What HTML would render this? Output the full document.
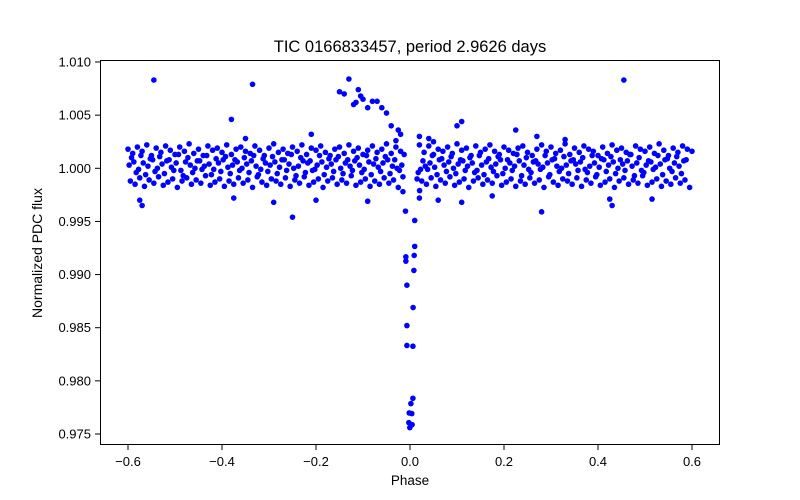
<!DOCTYPE html>
<html><head><meta charset="utf-8"><style>
body{margin:0;background:#fff;}
svg{display:block;font-family:"Liberation Sans","DejaVu Sans",sans-serif;}
</style></head><body>
<svg id="chart" width="800" height="500" viewBox="0 0 800 500" xmlns="http://www.w3.org/2000/svg">
<rect x="0" y="0" width="800" height="500" fill="#fff"/>
<text x="410" y="52" font-size="16.5" text-anchor="middle">TIC 0166833457, period 2.9626 days</text>
<g id="points"></g>
<rect x="100.5" y="60.5" width="619" height="384" fill="none" stroke="#000" stroke-width="1"/>
<g id="xaxis"></g>
<g id="yaxis"></g>
<text x="410" y="485" font-size="13.5" text-anchor="middle">Phase</text>
<text transform="translate(42,253) rotate(-90)" font-size="14" text-anchor="middle">Normalized PDC flux</text>
</svg>
<script>
const xTicks=[-0.6,-0.4,-0.2,0.0,0.2,0.4,0.6];
const xTickLabels=["\u22120.6","\u22120.4","\u22120.2","0.0","0.2","0.4","0.6"];
const yTicks=[0.975,0.980,0.985,0.990,0.995,1.000,1.005,1.010];
const yTickLabels=["0.975","0.980","0.985","0.990","0.995","1.000","1.005","1.010"];
const bandPhase=[-0.60,-0.59,-0.58,-0.57,-0.56,-0.55,-0.54,-0.53,-0.52,-0.51,-0.50,-0.49,-0.48,-0.47,-0.46,-0.45,-0.44,-0.43,-0.42,-0.41,-0.40,-0.39,-0.38,-0.37,-0.36,-0.35,-0.34,-0.33,-0.32,-0.31,-0.30,-0.29,-0.28,-0.27,-0.26,-0.25,-0.24,-0.23,-0.22,-0.21,-0.20,-0.19,-0.18,-0.17,-0.16,-0.15,-0.14,-0.13,-0.12,-0.11,-0.10,-0.09,-0.08,-0.07,-0.06,-0.05,-0.04,-0.03,-0.02,-0.01,0.00,0.01,0.02,0.03,0.04,0.05,0.06,0.07,0.08,0.09,0.10,0.11,0.12,0.13,0.14,0.15,0.16,0.17,0.18,0.19,0.20,0.21,0.22,0.23,0.24,0.25,0.26,0.27,0.28,0.29,0.30,0.31,0.32,0.33,0.34,0.35,0.36,0.37,0.38,0.39,0.40,0.41,0.42,0.43,0.44,0.45,0.46,0.47,0.48,0.49,0.50,0.51,0.52,0.53,0.54,0.55,0.56,0.57,0.58,0.59,0.60];
// band flux deviations in units of 1e-4
const fluxA=[18,14,20,16,22,12,19,15,21,17,13,20,16,23,14,18,12,21,17,19,15,22,13,18,20,16,14,21,17,12,19,23,15,18,14,20,16,22,13,19,17,21,15,12,18,20,14,22,16,19,13,17,21,15,18,23,14,20,16,12,19,17,22,15,21,13,18,16,20,14,23,17,19,12,21,15,18,22,16,13,20,17,14,19,21,15,12,18,22,16,20,14,17,23,13,19,15,21,18,16,12,20,14,22,17,19,15,13,21,18,16,20,14,23,17,12,19,15,21,18,16];
const fluxB=[3,6,-1,5,2,8,0,4,7,1,5,-2,6,3,0,7,2,4,-1,5,8,1,3,6,0,4,7,2,-1,5,3,6,1,8,4,0,2,7,5,-2,3,6,1,4,8,0,5,2,7,3,-1,6,4,1,5,8,2,0,3,7,4,6,-1,2,5,1,8,3,6,0,4,7,2,5,-2,3,6,1,4,8,0,5,2,7,3,-1,6,4,1,5,8,2,0,3,7,4,6,-1,2,5,1,8,3,6,0,4,7,2,5,-2,3,6,1,4,8,0,5,2,7];
const fluxC=[-12,-15,-9,-17,-11,-14,-8,-16,-13,-10,-18,-12,-9,-15,-11,-14,-7,-16,-13,-10,-17,-12,-15,-9,-14,-11,-18,-8,-13,-16,-10,-12,-15,-9,-17,-11,-14,-8,-16,-13,-10,-18,-12,-9,-15,-11,-14,-7,-16,-13,-10,-17,-12,-15,-9,-14,-11,-18,-8,-13,-16,-10,-12,-15,-9,-17,-11,-14,-8,-16,-13,-10,-18,-12,-9,-15,-11,-14,-7,-16,-13,-10,-17,-12,-15,-9,-14,-11,-18,-8,-13,-16,-10,-12,-15,-9,-17,-11,-14,-8,-16,-13,-10,-18,-12,-9,-15,-11,-14,-7,-16,-13,-10,-17,-12,-15,-9,-14,-11,-18];
const fluxD=[10,-4,12,-6,9,-3,11,-5,8,-2,13,-7,10,-4,7,-1,12,-6,9,-3,11,-5,8,-2,10,-4,12,-6,9,-3,11,-5,8,-2,13,-7,10,-4,7,-1,12,-6,9,-3,11,-5,8,-2,10,-4,12,-6,9,-3,11,-5,8,-2,13,-7,10,-4,7,-1,12,-6,9,-3,11,-5,8,-2,10,-4,12,-6,9,-3,11,-5,8,-2,13,-7,10,-4,7,-1,12,-6,9,-3,11,-5,8,-2,10,-4,12,-6,9,-3,11,-5,8,-2,13,-7,10,-4,7,-1,12,-6,9,-3,11,-5,8];
const extraPhase=[-0.545,0.455,-0.335,-0.38,-0.13,-0.15,-0.14,-0.11,-0.105,-0.12,-0.115,-0.08,-0.07,-0.09,-0.06,-0.05,-0.1,-0.04,-0.02,0.11,0.1,0.05,-0.575,-0.57,-0.375,-0.25,-0.29,-0.2,-0.09,0.28,0.43,0.425,0.515,0.11,0.06,0.02,-0.015,0.175,0.225,0.27,0.33,-0.21,-0.35,-0.025,-0.03,0.02,0.04];
const extraFlux=[1.0083,1.0083,1.0079,1.0046,1.0084,1.0072,1.0070,1.0074,1.0068,1.0060,1.0062,1.0063,1.0063,1.0057,1.0057,1.0052,1.0065,1.0040,1.0032,1.0044,1.0040,1.0025,0.9970,0.9965,0.9972,0.9954,0.9968,0.9970,0.9969,0.9959,0.9965,0.9971,0.9971,0.9968,0.9970,0.9972,0.9978,0.9974,1.0036,1.0030,1.0027,1.0032,1.0028,1.0036,1.0026,1.0030,1.0028];
const dipPhase=[-0.0096,-0.0088,-0.0088,-0.0066,-0.0066,-0.0066,0.0062,0.0066,0.0083,0.0089,0.0100,0.0100,0.0204,0.0062,0.0019,-0.0017,0.0038,-0.0025,0.0045,-0.0004];
const dipFlux=[0.99597,0.99167,0.99126,0.98900,0.98520,0.98333,0.98326,0.98690,0.99039,0.99180,0.99265,0.99509,0.99790,0.97836,0.97786,0.97698,0.97692,0.97607,0.97588,0.97560];
const X0=-0.6,X1=0.6,PX0=128,PX1=692;
const Y0=0.975,Y1=1.010,PY0=434,PY1=62;
function xs(v){return PX0+(v-X0)/(X1-X0)*(PX1-PX0);}
function ys(v){return PY0+(v-Y0)/(Y1-Y0)*(PY1-PY0);}
const NS="http://www.w3.org/2000/svg";
const pg=document.getElementById('points');
function dot(p,f){
  const c=document.createElementNS(NS,'circle');
  c.setAttribute('cx',xs(p).toFixed(2));
  c.setAttribute('cy',ys(f).toFixed(2));
  c.setAttribute('r','2.8');
  c.setAttribute('fill','#0000ff');
  
  
  pg.appendChild(c);
}
const bands=[[fluxA,0.0],[fluxB,0.0025],[fluxC,0.005],[fluxD,0.0075]];
bands.forEach(([arr,off])=>{
  const n=Math.min(arr.length,bandPhase.length);
  for(let i=0;i<n;i++){
    const p=bandPhase[i]+off;
    if(p>-0.012&&p<0.014)continue;
    dot(p,1+arr[i]*1e-4);
  }
});
for(let i=0;i<Math.min(extraPhase.length,extraFlux.length);i++)dot(extraPhase[i],extraFlux[i]);
for(let i=0;i<Math.min(dipPhase.length,dipFlux.length);i++)dot(dipPhase[i],dipFlux[i]);
const xa=document.getElementById('xaxis');
xTicks.forEach((t,i)=>{
  const x=xs(t);
  const l=document.createElementNS(NS,'line');
  l.setAttribute('x1',x);l.setAttribute('x2',x);l.setAttribute('y1',445);l.setAttribute('y2',450);
  l.setAttribute('stroke','#000');
  
  
  xa.appendChild(l);
  const tx=document.createElementNS(NS,'text');
  tx.setAttribute('x',x);tx.setAttribute('y',466);tx.setAttribute('font-size','13');tx.setAttribute('text-anchor','middle');
  tx.textContent=xTickLabels[i];
  
  
  xa.appendChild(tx);
});
const ya=document.getElementById('yaxis');
yTicks.forEach((t,i)=>{
  const y=ys(t);
  const l=document.createElementNS(NS,'line');
  l.setAttribute('x1',95);l.setAttribute('x2',100);l.setAttribute('y1',y);l.setAttribute('y2',y);
  l.setAttribute('stroke','#000');
  
  
  ya.appendChild(l);
  const tx=document.createElementNS(NS,'text');
  tx.setAttribute('x',91);tx.setAttribute('y',y+4.5);tx.setAttribute('font-size','13');tx.setAttribute('text-anchor','end');
  tx.textContent=yTickLabels[i];
  
  
  ya.appendChild(tx);
});
</script>
</body></html>
